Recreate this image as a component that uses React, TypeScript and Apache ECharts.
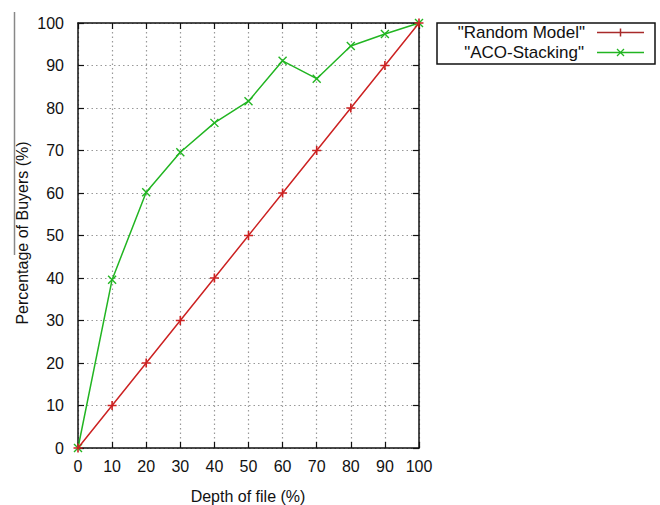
import React, { useEffect, useRef } from "react";
import * as echarts from "echarts";

const depth = [0, 10, 20, 30, 40, 50, 60, 70, 80, 90, 100];
const randomModel = [0, 10, 20, 30, 40, 50, 60, 70, 80, 90, 100];
const acoStacking = [0, 39.6, 60.2, 69.6, 76.5, 81.6, 91.1, 86.9, 94.6, 97.4, 100];
const seriesNames = ['"Random Model"', '"ACO-Stacking"'];
const xTitle = "Depth of file (%)";
const yTitle = "Percentage of Buyers (%)";

const RED = "#cc2222";
const GREEN = "#22b522";
const PLUS = "path://M0,5L10,5M5,0L5,10";
const CROSS = "path://M0,0L10,10M10,0L0,10";
const FONT = "Liberation Sans";

export default function App() {
  const ref = useRef<HTMLDivElement>(null);
  useEffect(() => {
    document.body.style.margin = "0";
    document.body.style.overflow = "hidden";
    const chart = echarts.init(ref.current!, null, { renderer: "svg", width: 660, height: 505 });
    const axisCommon = {
      type: "value",
      min: 0,
      max: 100,
      interval: 10,
      axisLine: { show: true, onZero: false, lineStyle: { color: "#111", width: 1.5 } },
      axisTick: { show: true, inside: true, length: 6, lineStyle: { color: "#111", width: 1.2 } },
    };
    chart.setOption({
      animation: false,
      backgroundColor: "#fff",
      grid: { left: 78, right: 241, top: 23, bottom: 57 },
      xAxis: [
        {
          ...axisCommon,
          position: "bottom",
          axisLabel: { fontFamily: FONT, fontSize: 16, color: "#111", margin: 10 },
          splitLine: { show: true, lineStyle: { color: "#999", type: [1.5, 3], width: 1.2 } },
        },
        {
          ...axisCommon,
          position: "top",
          axisLabel: { show: false },
          splitLine: { show: false },
        },
      ],
      yAxis: [
        {
          ...axisCommon,
          position: "left",
          axisLabel: { fontFamily: FONT, fontSize: 16, color: "#111", margin: 14 },
          splitLine: { show: true, lineStyle: { color: "#999", type: [1.5, 3], width: 1.2 } },
        },
        {
          ...axisCommon,
          position: "right",
          axisLabel: { show: false },
          splitLine: { show: false },
        },
      ],
      series: [
        {
          name: seriesNames[0],
          type: "line",
          xAxisIndex: 0,
          yAxisIndex: 0,
          data: depth.map((d, i) => [d, randomModel[i]]),
          symbol: PLUS,
          symbolSize: 9,
          showSymbol: true,
          lineStyle: { color: RED, width: 1.5 },
          itemStyle: { color: RED, borderColor: RED, borderWidth: 1.6 },
          z: 3,
        },
        {
          name: seriesNames[1],
          type: "line",
          xAxisIndex: 0,
          yAxisIndex: 0,
          data: depth.map((d, i) => [d, acoStacking[i]]),
          symbol: CROSS,
          symbolSize: 8,
          showSymbol: true,
          lineStyle: { color: GREEN, width: 1.5 },
          itemStyle: { color: GREEN, borderColor: GREEN, borderWidth: 1.4 },
          z: 2,
        },
      ],
      graphic: [
        {
          type: "text",
          x: 248,
          y: 496,
          style: {
            text: xTitle,
            fontFamily: FONT,
            fontSize: 16,
            fill: "#111",
            align: "center",
            verticalAlign: "middle",
          },
        },
        {
          type: "text",
          x: 22.5,
          y: 233,
          rotation: Math.PI / 2,
          style: {
            text: yTitle,
            fontFamily: FONT,
            fontSize: 16,
            fill: "#111",
            align: "center",
            verticalAlign: "middle",
          },
        },
        {
          type: "line",
          shape: { x1: 14.5, y1: 12, x2: 14.5, y2: 255 },
          style: { stroke: "#888", lineWidth: 1.5 },
        },
        {
          type: "rect",
          shape: { x: 437, y: 23, width: 218, height: 41 },
          style: { fill: "none", stroke: "#111", lineWidth: 1.5 },
        },
        {
          type: "text",
          x: 585,
          y: 32,
          style: {
            text: seriesNames[0],
            fontFamily: FONT,
            fontSize: 17,
            fill: "#111",
            align: "right",
            verticalAlign: "middle",
          },
        },
        {
          type: "text",
          x: 584,
          y: 52,
          style: {
            text: seriesNames[1],
            fontFamily: FONT,
            fontSize: 17,
            fill: "#111",
            align: "right",
            verticalAlign: "middle",
          },
        },
        {
          type: "line",
          shape: { x1: 597, y1: 32.5, x2: 644, y2: 32.5 },
          style: { stroke: "#a82a2a", lineWidth: 1.5 },
        },
        {
          type: "line",
          shape: { x1: 620.5, y1: 28.5, x2: 620.5, y2: 36.5 },
          style: { stroke: "#a82a2a", lineWidth: 1.5 },
        },
        {
          type: "line",
          shape: { x1: 597, y1: 52.5, x2: 644, y2: 52.5 },
          style: { stroke: GREEN, lineWidth: 1.5 },
        },
        {
          type: "line",
          shape: { x1: 617, y1: 49, x2: 624, y2: 56 },
          style: { stroke: GREEN, lineWidth: 1.3 },
        },
        {
          type: "line",
          shape: { x1: 624, y1: 49, x2: 617, y2: 56 },
          style: { stroke: GREEN, lineWidth: 1.3 },
        },
      ],
    });
    return () => chart.dispose();
  }, []);
  return <div ref={ref} style={{ width: 660, height: 505 }} />;
}
